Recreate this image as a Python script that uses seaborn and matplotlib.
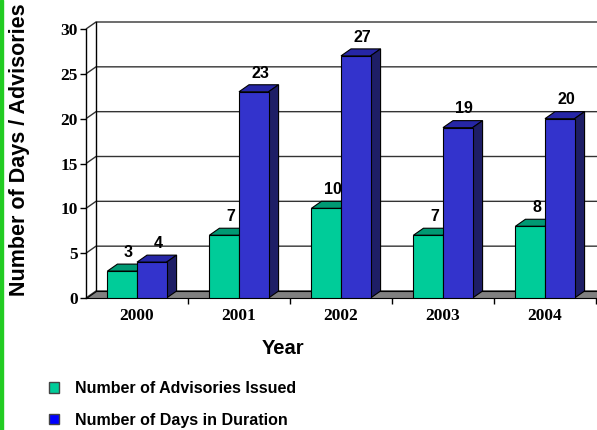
import matplotlib
matplotlib.use("Agg")
import matplotlib.pyplot as plt
from matplotlib.patches import Polygon, Rectangle, Patch
import numpy as np
import pandas as pd
import seaborn as sns

# ---- data ----
years = ["2000", "2001", "2002", "2003", "2004"]
advisories = [3, 7, 10, 7, 8]
days = [4, 23, 27, 19, 20]
series_names = ["Number of Advisories Issued", "Number of Days in Duration"]
y_ticks = [0, 5, 10, 15, 20, 25, 30]

# ---- styling ----
front_colors = ["#00CC99", "#3333CC"]
top_colors = ["#009973", "#2626A6"]
side_colors = ["#007755", "#1E1E66"]
legend_colors = ["#00CC99", "#0000FF"]
DEPTH_X, DEPTH_Y = 10, 7  # pixels of 3D depth

df = pd.DataFrame({
    "year": years * 2,
    "value": advisories + days,
    "series": [series_names[0]] * len(years) + [series_names[1]] * len(years),
})

W, H = 597, 430
fig = plt.figure(figsize=(W / 100, H / 100), dpi=100)
fig.patch.set_facecolor("white")
fig.patches.append(Rectangle((0, 0), 3 / W, 1, transform=fig.transFigure,
                             color="#22CC22", zorder=0))

ax = fig.add_axes([86 / W, (H - 298) / H, 510 / W, 269 / H])
sns.barplot(data=df, x="year", y="value", hue="series",
            palette=dict(zip(series_names, front_colors)), saturation=1,
            width=0.58, edgecolor="black", linewidth=0.8,
            legend=False, ax=ax)
ax.set_xlim(-0.5, 4.5)
ax.set_ylim(0, 30)
ax.set_facecolor("none")

# depth expressed in data units
p0 = ax.transData.transform((0, 0))
p1 = ax.transData.transform((1, 1))
dx = DEPTH_X / (p1[0] - p0[0])
dy = DEPTH_Y / (p1[1] - p0[1])
x0, x1 = ax.get_xlim()

# back wall gridlines, side wall diagonals and edges
for t in y_ticks:
    ax.plot([x0, x0 + dx, x1 + dx], [t, t + dy, t + dy], color="#333333",
            lw=1.0, zorder=1, clip_on=False, solid_capstyle="butt")
ax.plot([x0 + dx, x0 + dx], [dy, 30 + dy], color="black", lw=1.0, zorder=1,
        clip_on=False)

# floor
floor = Polygon([(x0, 0), (x1 + dx, 0), (x1 + dx, dy), (x0 + dx, dy)],
                closed=True, facecolor="#808080", edgecolor="black", lw=0.8,
                zorder=1.5, clip_on=False)
ax.add_patch(floor)

# 3D faces on each bar
for s, cont in enumerate(ax.containers):
    vals = [advisories, days][s]
    for rect, v in zip(cont.patches, vals):
        xl = rect.get_x()
        xr = xl + rect.get_width()
        rect.set_zorder(3 + s)
        top = Polygon([(xl, v), (xr, v), (xr + dx, v + dy), (xl + dx, v + dy)],
                      closed=True, facecolor=top_colors[s], edgecolor="black",
                      lw=0.8, zorder=2.9 + s, clip_on=False)
        side = Polygon([(xr, 0), (xr + dx, dy), (xr + dx, v + dy), (xr, v)],
                       closed=True, facecolor=side_colors[s], edgecolor="black",
                       lw=0.8, zorder=2.9 + s, clip_on=False)
        ax.add_patch(top)
        ax.add_patch(side)
        ax.annotate(str(v), xy=(xl + rect.get_width() / 2, v),
                    xytext=(4.5, 13.5), textcoords="offset points",
                    ha="center", va="center", fontsize=11.5, fontweight="bold",
                    family="Liberation Sans", zorder=6)

# axes
for sp in ["top", "right", "bottom"]:
    ax.spines[sp].set_visible(False)
ax.spines["left"].set_linewidth(1.0)
ax.spines["left"].set_zorder(2)
ax.set_yticks(y_ticks)
ax.set_yticklabels([str(t) for t in y_ticks], family="Liberation Serif",
                   fontweight="bold", fontsize=12.5)
ax.tick_params(axis="y", length=4, width=1, pad=2, direction="out")
ax.set_xticks(range(len(years)))
ax.set_xticklabels(years, family="Liberation Serif", fontweight="bold",
                   fontsize=12.5)
ax.tick_params(axis="x", which="major", length=0, pad=7)
ax.set_xticks([0.5, 1.5, 2.5, 3.5, 4.5], minor=True)
ax.tick_params(axis="x", which="minor", length=4, width=1, direction="out")
ax.set_xlabel("")
ax.set_ylabel("")

fig.text(20 / W, 1 - 150 / H, "Number of Days / Advisories", rotation=90,
         ha="center", va="center", fontsize=15.5, fontweight="bold",
         family="Liberation Sans")
fig.text(283 / W, 1 - 348 / H, "Year", ha="center", va="center",
         fontsize=14.5, fontweight="bold", family="Liberation Sans")

handles = [Patch(facecolor=c, edgecolor="#444444", lw=1.0) for c in legend_colors]
fig.legend(handles, series_names, loc="upper left",
           bbox_to_anchor=(49 / W, 1 - 381 / H), frameon=False,
           prop={"family": "Liberation Sans", "weight": "bold", "size": 11.5},
           handlelength=0.65, handleheight=0.65, handletextpad=1.0,
           labelspacing=1.05, borderpad=0, borderaxespad=0)

fig.savefig("out.png", dpi=100)
